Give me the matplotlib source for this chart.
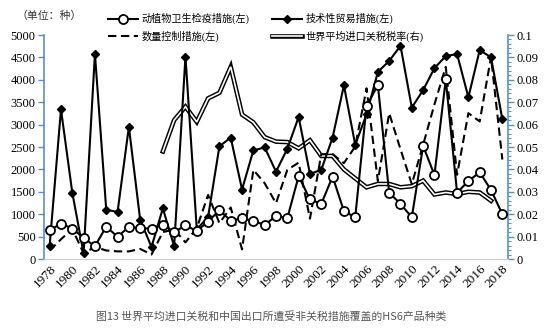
import matplotlib
matplotlib.use("Agg")
import matplotlib.pyplot as plt
import matplotlib.patheffects as pe
from matplotlib.ticker import MultipleLocator, FuncFormatter

years = list(range(1978, 2019))
sps = [640, 790, 680, 470, 285, 725, 495, 720, 685, 680, 770, 600, 750, 625,
       835, 1090, 855, 905, 850, 760, 960, 910, 1850, 1330, 1230, 1840, 1070,
       930, 3415, 3880, 1480, 1230, 930, 2525, 1875, 4010, 1480, 1740, 1935,
       1540, 1000]
tbt = [300, 3340, 1480, 125, 4580, 1100, 1050, 2950, 870, 270, 1130, 285,
       4520, 660, 940, 2515, 2710, 1550, 2425, 2490, 1950, 2460, 3170, 1900,
       1990, 2710, 3875, 2550, 3230, 4175, 4420, 4760, 3380, 3770, 4260,
       4530, 4575, 3610, 4665, 4500, 3120]
qc = [190, 440, 670, 130, 270, 190, 170, 170, 225, 100, 600, 660, 370, 690,
      1430, 800, 1150, 215, 1990, 1690, 1245, 1990, 2150, 900, 2340, 2340,
      2140, 2510, 3810, 1740, 3255, 2450, 1670, 2550, 3450, 4290, 1880, 3255,
      3070, 4510, 2220]
tariff_years = list(range(1988, 2018))
tariff = [0.048, 0.062, 0.068, 0.0612, 0.0717, 0.0742, 0.0858, 0.0645, 0.061,
          0.0544, 0.0524, 0.0522, 0.0494, 0.053, 0.046, 0.046, 0.040, 0.036,
          0.032, 0.0335, 0.0335, 0.032, 0.0325, 0.035, 0.0288, 0.0297, 0.029,
          0.030, 0.0297, 0.026]

labels = ["动植物卫生检疫措施(左)", "技术性贸易措施(左)",
          "数量控制措施(左)", "世界平均进口关税税率(右)"]
unit_text = "（单位：种）"
caption = "图13 世界平均进口关税和中国出口所遭受非关税措施覆盖的HS6产品种类"

serif = ["Liberation Serif", "Noto Sans CJK SC"]
cjk = ["Noto Sans CJK SC", "DejaVu Sans"]
plt.rcParams["font.family"] = serif
blue = "#5B8FC9"

fig = plt.figure(figsize=(5.5, 3.28), dpi=100)
ax1 = fig.add_axes([44/550, 1-259/328, (508-44)/550, (259-35)/328])
ax2 = ax1.twinx()
ax2.set_zorder(ax1.get_zorder() - 1)
ax1.patch.set_visible(False)

l_tar, = ax2.plot(tariff_years, tariff, color="white", lw=1.2,
                  solid_joinstyle="miter",
                  path_effects=[pe.Stroke(linewidth=3.3, foreground="black"),
                                pe.Normal()])
l_qc, = ax1.plot(years, qc, color="black", lw=1.5, ls=(0, (4, 2.2)))
l_tbt, = ax1.plot(years, tbt, color="black", lw=1.5, marker="D",
                  markersize=4, markerfacecolor="black")
l_sps, = ax1.plot(years, sps, color="black", lw=1.5, marker="o",
                  markersize=6.5, markerfacecolor="white",
                  markeredgecolor="black", markeredgewidth=1.3)

ax1.set_xlim(1977.5, 2018.5)
ax1.set_ylim(0, 5000)
ax2.set_ylim(0, 0.1)

ax1.yaxis.set_major_locator(MultipleLocator(500))
ax2.yaxis.set_major_locator(MultipleLocator(0.01))
ax2.yaxis.set_minor_locator(MultipleLocator(0.002))
ax2.yaxis.set_major_formatter(FuncFormatter(lambda v, p: "%g" % round(v, 3)))
ax1.set_xticks(years[::2])

for ax in (ax1, ax2):
    ax.spines["top"].set_visible(False)
    ax.spines["bottom"].set_color("#D0D0D0")
    ax.spines["left"].set_color(blue)
    ax.spines["right"].set_color(blue)
    ax.spines["left"].set_linewidth(1.2)
    ax.spines["right"].set_linewidth(1.2)

ax1.spines["right"].set_visible(False)
ax2.spines["left"].set_visible(False)

ax1.tick_params(axis="y", direction="out", color=blue, length=4, width=1,
                labelsize=9, pad=2)
ax2.tick_params(axis="y", which="major", direction="out", color=blue,
                length=4, width=1, labelsize=9, pad=2)
ax2.tick_params(axis="y", which="minor", direction="out", color=blue,
                length=2.5, width=0.8)
ax1.tick_params(axis="x", length=0, labelsize=9.5, pad=3)

for lab in ax1.get_xticklabels():
    lab.set_rotation(45)
    lab.set_ha("right")
    lab.set_rotation_mode("anchor")

leg = ax1.legend([l_sps, l_qc, l_tbt, l_tar],
                 [labels[0], labels[2], labels[1], labels[3]], ncol=2,
                 loc="upper left", bbox_to_anchor=(103/550, 1-8/328),
                 bbox_transform=fig.transFigure, frameon=False,
                 borderpad=0, handlelength=3.0, handletextpad=0.3,
                 columnspacing=2.2, labelspacing=0.6,
                 prop={"family": serif, "size": 7.3})
leg.set_zorder(10)

fig.text(17/550, 1-16/328, unit_text, family=cjk, fontsize=7.8,
         color="#333333", va="center", ha="left")
fig.text(0.493, 1-316/328, caption, family=cjk, fontsize=7.8,
         color="#555555", va="center", ha="center")

fig.savefig("out.png", dpi=100)
